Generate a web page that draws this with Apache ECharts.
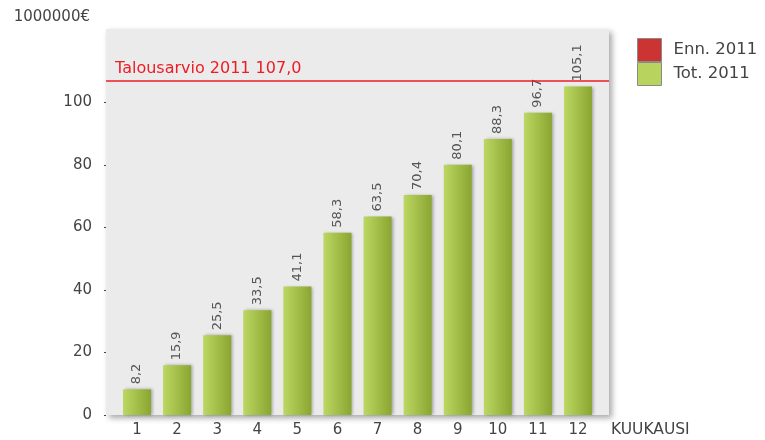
<!DOCTYPE html>
<html>
<head>
<meta charset="utf-8">
<script src="https://cdn.jsdelivr.net/npm/echarts@6/dist/echarts.min.js"></script>
<style>
  html, body { margin: 0; padding: 0; background: #fff; }
  #chart { width: 765px; height: 440px; }
</style>
</head>
<body>
<div id="chart"></div>
<script>
// kuukaudet ja kertymä (milj. €)
const months = [1, 2, 3, 4, 5, 6, 7, 8, 9, 10, 11, 12]
const tot2011 = [8.2, 15.9, 25.5, 33.5, 41.1, 58.3, 63.5, 70.4, 80.1, 88.3, 96.7, 105.1]
const enn2011 = []
const budget = 107.0
const yTicks = [0, 20, 40, 60, 80, 100]

const font = 'DejaVu Sans'
const fmt = v => String(v).replace('.', ',')

let chart = echarts.init(document.getElementById('chart'))
let option = {
  textStyle: { fontFamily: font },
  animation: false,
  grid: {
    left: 106,
    top: 29,
    right: 156,
    bottom: 25,
    outerBoundsMode: 'none',
    show: true,
    backgroundColor: '#ebebeb',
    borderWidth: 0,
    shadowColor: 'rgba(0,0,0,0.35)',
    shadowBlur: 6,
    shadowOffsetX: 3,
    shadowOffsetY: 3
  },
  legend: {
    orient: 'vertical',
    left: 637,
    top: 38,
    padding: 0,
    itemWidth: 24,
    itemHeight: 23,
    itemGap: 0,
    icon: 'rect',
    textStyle: { fontFamily: font, fontSize: 16.5, color: '#444', padding: [0, 0, 0, 7] },
    data: [
      { name: 'Enn. 2011', itemStyle: { color: '#cc3333', borderColor: '#8a8a8a', borderWidth: 1 } },
      { name: 'Tot. 2011', itemStyle: { color: '#b8d35e', borderColor: '#8a8a8a', borderWidth: 1 } }
    ]
  },
  xAxis: {
    type: 'value',
    min: 0.227,
    max: 12.773,
    splitLine: { show: false },
    axisLine: { show: false },
    axisTick: { show: false },
    axisLabel: {
      customValues: months,
      fontFamily: font,
      fontSize: 15,
      color: '#444',
      margin: 8
    },
    name: 'KUUKAUSI',
    nameLocation: 'end',
    nameGap: 2,
    nameTextStyle: { fontFamily: font, fontSize: 15.5, color: '#444', align: 'left', verticalAlign: 'top', lineHeight: 30 }
  },
  yAxis: {
    type: 'value',
    min: 0,
    max: 123.5,
    interval: 20,
    splitLine: { show: false },
    axisLine: { show: false },
    axisTick: { show: true, customValues: yTicks, length: 2, lineStyle: { color: '#444', width: 1 } },
    axisLabel: {
      customValues: yTicks,
      fontFamily: font,
      fontSize: 15,
      color: '#444',
      margin: 14
    },
    name: '1000000€',
    nameLocation: 'end',
    nameGap: 4,
    nameTextStyle: { fontFamily: font, fontSize: 15, color: '#444', align: 'right', padding: [0, 16, 0, 0] }
  },
  series: [
    {
      name: 'Enn. 2011',
      type: 'bar',
      data: enn2011,
      itemStyle: { color: '#cc3333' }
    },
    {
      name: 'Tot. 2011',
      type: 'bar',
      barWidth: 28,
      barGap: '-100%',
      data: months.map((m, i) => [m, tot2011[i]]),
      itemStyle: {
        color: new echarts.graphic.LinearGradient(0, 0, 1, 0, [
          { offset: 0, color: '#bcd762' },
          { offset: 1, color: '#8aa631' }
        ]),
        shadowColor: 'rgba(0,0,0,0.3)',
        shadowBlur: 3,
        shadowOffsetX: 2,
        shadowOffsetY: 0
      },
      label: {
        show: true,
        position: 'top',
        rotate: 90,
        align: 'left',
        verticalAlign: 'middle',
        distance: 5,
        fontFamily: font,
        fontSize: 13,
        color: '#555',
        formatter: p => fmt(p.value[1])
      },
      markLine: {
        symbol: 'none',
        silent: true,
        lineStyle: { color: '#ee1c24', width: 1.5, type: 'solid' },
        label: {
          position: 'insideStartTop',
          formatter: 'Talousarvio 2011 ' + fmt(budget.toFixed(1)),
          fontFamily: font,
          fontSize: 16,
          color: '#ee1c24',
          distance: [9, 4]
        },
        data: [{ yAxis: budget }]
      }
    }
  ]
}
chart.setOption(option)
</script>
</body>
</html>
